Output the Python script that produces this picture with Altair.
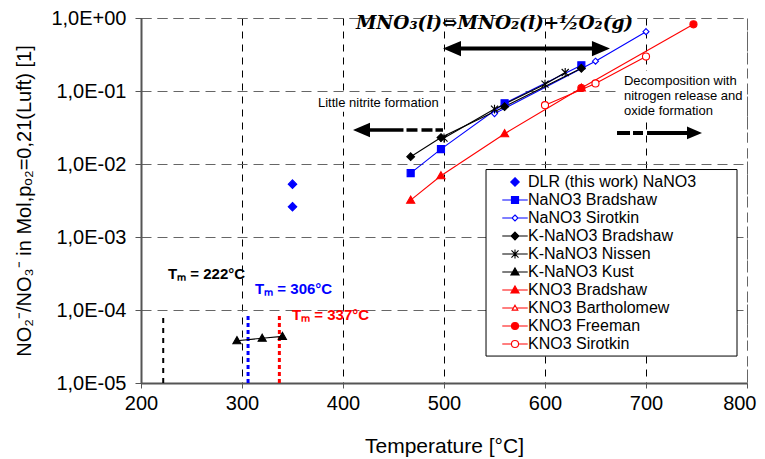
import altair as alt
import pandas as pd

# ---------------- data ----------------
series_names = [
    "DLR (this work) NaNO3", "NaNO3 Bradshaw", "NaNO3 Sirotkin",
    "K-NaNO3 Bradshaw", "K-NaNO3 Nissen", "K-NaNO3 Kust",
    "KNO3 Bradshaw", "KNO3 Bartholomew", "KNO3 Freeman", "KNO3 Sirotkin",
]

dlr_T = [350, 350]
dlr_v = [0.0053, 0.0026]
nano3_bradshaw_T = [467, 497, 560, 636]
nano3_bradshaw_v = [0.0075, 0.016, 0.068, 0.225]
nano3_sirotkin_T = [550, 650, 700]
nano3_sirotkin_v = [0.049, 0.256, 0.65]
knano3_bradshaw_T = [467, 497, 560, 636]
knano3_bradshaw_v = [0.0126, 0.023, 0.061, 0.205]
knano3_nissen_T = [500, 550, 600, 620]
knano3_nissen_v = [0.0227, 0.0565, 0.124, 0.179]
knano3_kust_T = [295, 320, 340]
knano3_kust_v = [3.8e-5, 4.1e-5, 4.35e-5]
kno3_bradshaw_T = [467, 497, 560, 636]
kno3_bradshaw_v = [0.0032, 0.0069, 0.026, 0.11]
kno3_bartholomew_T = []
kno3_bartholomew_v = []
kno3_freeman_T = [636, 747]
kno3_freeman_v = [0.11, 0.82]
kno3_sirotkin_T = [600, 650, 700]
kno3_sirotkin_v = [0.064, 0.127, 0.296]

melting_T = [222, 306, 337]
melting_labels = ["Tₘ = 222°C", "Tₘ = 306°C", "Tₘ = 337°C"]

x_ticks = [200, 300, 400, 500, 600, 700, 800]
y_ticks = [1e-5, 1e-4, 1e-3, 1e-2, 1e-1, 1]

# ---------------- styles ----------------
BLUE, BLACK, RED, WHITE = "#0000FF", "#000000", "#FF0000", "#FFFFFF"
series_stroke = [BLUE, BLUE, BLUE, BLACK, BLACK, BLACK, RED, RED, RED, RED]
series_fill = [BLUE, BLUE, WHITE, BLACK, BLACK, BLACK, RED, WHITE, RED, WHITE]

DIA_L = "M0,-1.2L1.2,0L0,1.2L-1.2,0Z"
DIA_S = "M0,-0.85L0.85,0L0,0.85L-0.85,0Z"
DIA_M = "M0,-1.1L1.1,0L0,1.1L-1.1,0Z"
SQR = "M-1,-1H1V1H-1Z"
STAR = "M-1,-1L1,1M-1,1L1,-1M0,-1.25V1.25"
TRI = "M0,-1.15L1.15,0.85H-1.15Z"
TRI_S = "M0,-0.8L0.8,0.6H-0.8Z"
CIRC = "M1,0A1,1 0 1,1 -1,0A1,1 0 1,1 1,0Z"
point_shapes = [DIA_L, SQR, DIA_S, DIA_M, STAR, TRI, TRI, TRI_S, CIRC, CIRC]

FULL = "M-3.6,0H3.6"
legend_shapes = [
    DIA_L,
    "M-3.6,0H-1M1,0H3.6" + SQR,
    "M-3.6,0H-0.85M0.85,0H3.6" + DIA_S,
    FULL + DIA_M,
    FULL + STAR,
    FULL + TRI,
    FULL + TRI,
    "M-3.6,0H-0.46M0.46,0H3.6" + TRI_S,
    FULL + CIRC,
    "M-3.6,0H-1M1,0H3.6" + CIRC,
]

all_T = [dlr_T, nano3_bradshaw_T, nano3_sirotkin_T, knano3_bradshaw_T, knano3_nissen_T,
         knano3_kust_T, kno3_bradshaw_T, kno3_bartholomew_T, kno3_freeman_T, kno3_sirotkin_T]
all_v = [dlr_v, nano3_bradshaw_v, nano3_sirotkin_v, knano3_bradshaw_v, knano3_nissen_v,
         knano3_kust_v, kno3_bradshaw_v, kno3_bartholomew_v, kno3_freeman_v, kno3_sirotkin_v]

rows = []
for name, ts, vs in zip(series_names, all_T, all_v):
    for t, v in zip(ts, vs):
        rows.append({"series": name, "T": t, "v": v})
df = pd.DataFrame(rows)
df_lines = df[df["series"] != series_names[0]]

FONT = "Liberation Sans"
Y_TITLE = "NO₂⁻/NO₃⁻ in Mol,pₒ₂=0,21(Luft)  [1]"

x_scale = alt.Scale(domain=[200, 800], nice=False, zero=False)
y_scale = alt.Scale(type="log", domain=[1e-5, 1], nice=False)
x_axis = alt.Axis(
    values=x_ticks, title="Temperature [°C]", grid=True, labelFlush=False,
    gridColor={"condition": {"test": "datum.value >= 800", "value": "#666666"}, "value": "#000000"},
    labelAlign={"condition": {"test": "datum.value >= 800", "value": "right"}, "value": "center"},
    labelOffset={"condition": {"test": "datum.value >= 800", "value": 9}, "value": 0},
    gridDash=[7, 6], gridWidth=1, labelFontSize=20, labelFont=FONT, labelColor="#000000",
    titleFont=FONT, titleFontSize=21, titleFontWeight="normal", titleColor="#000000",
    domainColor="#555555", domainWidth=2, tickColor="#555555", tickSize=5,
    labelPadding=5, titlePadding=22,
)
y_axis = alt.Axis(
    values=y_ticks, title=Y_TITLE, grid=True, gridColor="#666666", gridDash=[10, 6], gridWidth=1,
    labelFlush=False,
    labelExpr="datum.value >= 0.99 ? '1,0E+00' : '1,0E-0' + round(-log(datum.value) / LN10)",
    labelFontSize=20, labelFont=FONT, labelColor="#000000",
    titleFont=FONT, titleFontSize=20, titleFontWeight="normal", titleColor="#000000",
    domainColor="#555555", domainWidth=2, tickColor="#555555", tickSize=6,
    labelPadding=9, titlePadding=16,
)
x_enc = alt.X("T:Q", scale=x_scale, axis=x_axis)
y_enc = alt.Y("v:Q", scale=y_scale, axis=y_axis)

# ---------------- annotation backgrounds and legend box ----------------
bg_df = pd.DataFrame({"T": [373.3, 671.3], "T2": [496, 800], "v": [0.086, 0.189], "v2": [0.0518, 0.0417]})
bg = alt.Chart(bg_df).mark_rect(color="white").encode(x=x_enc, x2="T2:Q", y=y_enc, y2="v2:Q")
legend_box_df = pd.DataFrame({"T": [541.6], "T2": [790.1], "v": [0.0084], "v2": [2.34e-5]})
legend_box = alt.Chart(legend_box_df).mark_rect(fill="white", stroke="black", strokeWidth=1).encode(
    x=x_enc, x2="T2:Q", y=y_enc, y2="v2:Q")

# ---------------- melting point rules ----------------
tm_layers = []
tm_colors = [BLACK, BLUE, RED]
tm_dash = [[5, 5], [4, 3], [4, 3]]
tm_width = [2, 3, 3]
tm_label_T = [226.7, 312.9, 349.5]
tm_label_v = [3.1e-4, 1.92e-4, 8.5e-5]
for i in range(3):
    rdf = pd.DataFrame({"T": [melting_T[i]], "v": [1e-5], "v2": [9e-5]})
    tm_layers.append(
        alt.Chart(rdf).mark_rule(color=tm_colors[i], strokeDash=tm_dash[i], strokeWidth=tm_width[i])
        .encode(x=x_enc, y=y_enc, y2="v2:Q")
    )
    tdf = pd.DataFrame({"T": [tm_label_T[i]], "v": [tm_label_v[i]], "label": [melting_labels[i]]})
    tm_layers.append(
        alt.Chart(tdf).mark_text(align="left", baseline="middle", font=FONT, fontSize=15,
                                 fontWeight="bold", color=tm_colors[i])
        .encode(x=x_enc, y=y_enc, text="label:N")
    )

# ---------------- series ----------------
lines = alt.Chart(df_lines).mark_line(strokeWidth=1.1).encode(
    x=x_enc, y=y_enc,
    color=alt.Color("series:N", scale=alt.Scale(domain=series_names, range=series_stroke), legend=None),
    detail="series:N", order="T:Q",
)

points = alt.Chart(df).mark_point(filled=True, size=50, strokeWidth=1.1, opacity=1).encode(
    x=x_enc, y=y_enc,
    shape=alt.Shape("series:N", scale=alt.Scale(domain=series_names, range=point_shapes), legend=None),
    stroke=alt.Stroke("series:N", scale=alt.Scale(domain=series_names, range=series_stroke), legend=None),
    fill=alt.Fill("series:N", scale=alt.Scale(domain=series_names, range=series_fill), legend=None),
)

leg = alt.Legend(
    title=None, orient="none", legendX=345, legendY=151, padding=5,
    labelFont=FONT, labelFontSize=16, labelColor="#000000", labelLimit=400,
    symbolSize=50, symbolStrokeWidth=1.1, symbolOffset=16, labelOffset=5, rowPadding=2,
)
legend_layer = alt.Chart(df).transform_filter("false").mark_point(
    filled=True, size=50, strokeWidth=1.1, opacity=1
).encode(
    x=x_enc, y=y_enc,
    shape=alt.Shape("series:N", scale=alt.Scale(domain=series_names, range=legend_shapes), legend=leg),
    stroke=alt.Stroke("series:N", scale=alt.Scale(domain=series_names, range=series_stroke), legend=leg),
    fill=alt.Fill("series:N", scale=alt.Scale(domain=series_names, range=series_fill), legend=leg),
)

# ---------------- annotations ----------------
eq_df = pd.DataFrame({"T": [550], "v": [0.86], "label": ["MNO₃(l)⇔MNO₂(l)+½O₂(g)"]})
equation = alt.Chart(eq_df).mark_text(
    align="center", baseline="middle", font="DejaVu Serif", fontSize=18.5,
    fontStyle="italic", fontWeight="bold", color="#000000"
).encode(x=x_enc, y=y_enc, text="label:N")

LEFT_HEAD = "M-1,0L1,-0.85L1,0.85Z"
RIGHT_HEAD = "M1,0L-1,-0.85L-1,0.85Z"

# double arrow
darrow_shaft = alt.Chart(pd.DataFrame({"T": [507.9], "T2": [655.4], "v": [0.381]})).mark_rule(
    color="black", strokeWidth=4).encode(x=x_enc, x2="T2:Q", y=y_enc)
darrow_l = alt.Chart(pd.DataFrame({"T": [507.9], "v": [0.381]})).mark_point(
    shape=LEFT_HEAD, size=324, filled=True, color="black", opacity=1).encode(x=x_enc, y=y_enc)
darrow_r = alt.Chart(pd.DataFrame({"T": [655.4], "v": [0.381]})).mark_point(
    shape=RIGHT_HEAD, size=324, filled=True, color="black", opacity=1).encode(x=x_enc, y=y_enc)

# left dashed arrow
larrow_shaft = alt.Chart(pd.DataFrame({"T": [418.3], "T2": [499], "v": [0.0292]})).mark_rule(
    color="black", strokeWidth=3.5, strokeDash=[42, 3, 11, 4, 11, 3, 9, 2]).encode(x=x_enc, x2="T2:Q", y=y_enc)
larrow_h = alt.Chart(pd.DataFrame({"T": [418.3], "v": [0.0292]})).mark_point(
    shape=LEFT_HEAD, size=289, filled=True, color="black", opacity=1).encode(x=x_enc, y=y_enc)

# right dashed arrow
rarrow_shaft = alt.Chart(pd.DataFrame({"T": [671.3], "T2": [748], "v": [0.0266]})).mark_rule(
    color="black", strokeWidth=4, strokeDash=[13, 3, 10, 4, 100, 1]).encode(x=x_enc, x2="T2:Q", y=y_enc)
rarrow_h = alt.Chart(pd.DataFrame({"T": [748], "v": [0.0266]})).mark_point(
    shape=RIGHT_HEAD, size=225, filled=True, color="black", opacity=1).encode(x=x_enc, y=y_enc)

little_df = pd.DataFrame({"T": [375.2], "v": [0.0675], "label": ["Little nitrite formation"]})
little = alt.Chart(little_df).mark_text(align="left", baseline="middle", font=FONT, fontSize=13,
                                        color="#000000").encode(x=x_enc, y=y_enc, text="label:N")

decomp_df = pd.DataFrame({
    "T": [678.2, 678.2, 678.2], "v": [0.138, 0.086, 0.0536],
    "label": ["Decomposition with", "nitrogen release and", "oxide formation"],
})
decomp = alt.Chart(decomp_df).mark_text(align="left", baseline="middle", font=FONT, fontSize=13,
                                        color="#000000").encode(x=x_enc, y=y_enc, text="label:N")

chart = alt.layer(
    bg, legend_box, *tm_layers, lines, points, legend_layer, equation,
    darrow_shaft, darrow_l, darrow_r, larrow_shaft, larrow_h, rarrow_shaft, rarrow_h,
    little, decomp,
).properties(
    width=606, height=365,
    padding={"left": 133, "top": 10, "right": 10, "bottom": 75},
    autosize=alt.AutoSizeParams(type="none"),
).resolve_scale(
    shape="independent", stroke="independent", fill="independent"
).configure_view(
    stroke="#666666", strokeDash=[10, 6], strokeWidth=1
)

chart.save("out.html", embed_options={"renderer": "svg", "actions": False})
